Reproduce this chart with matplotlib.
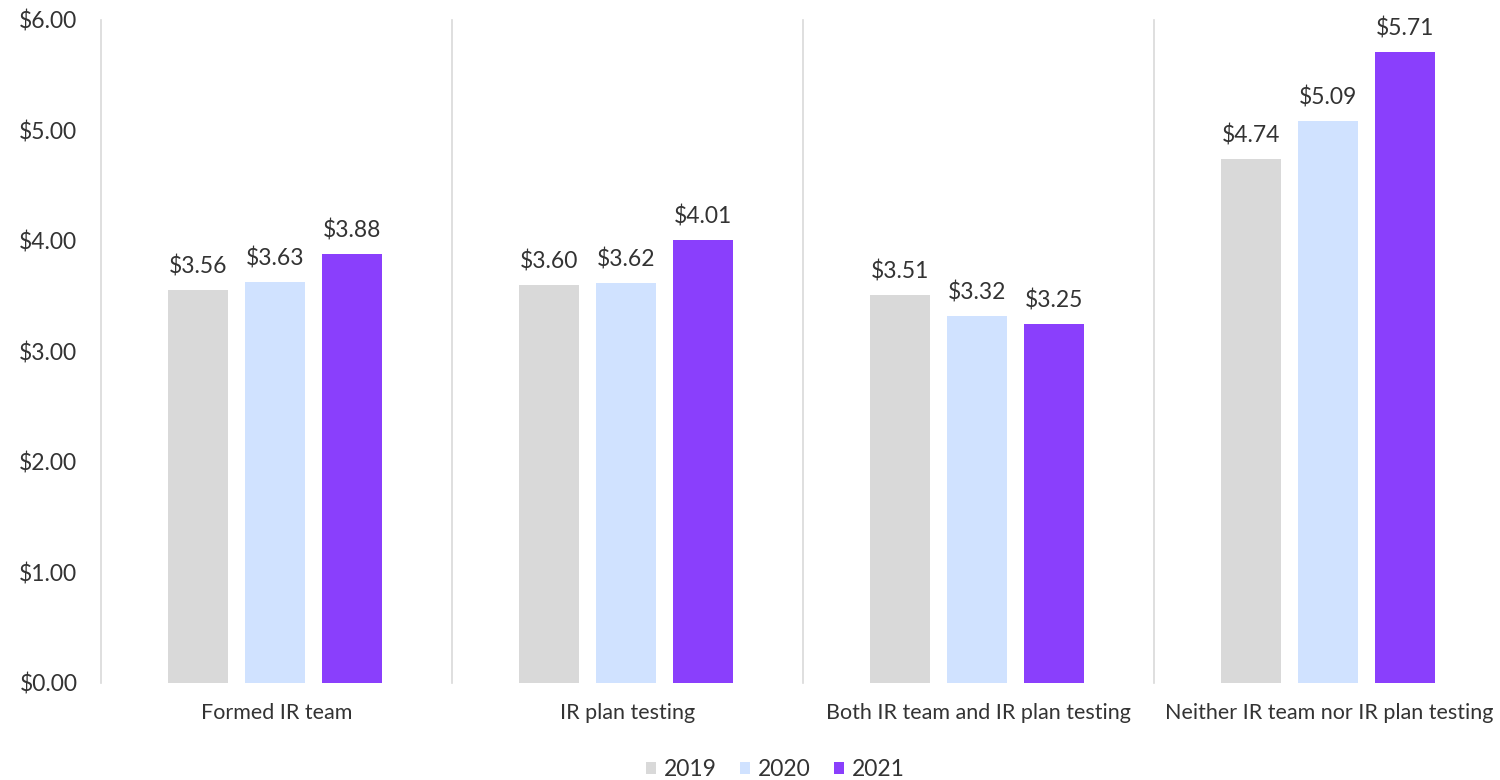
# Cost by IR team / IR plan testing, 2019-2021 grouped bar chart

import matplotlib
matplotlib.use('Agg')
import matplotlib.pyplot as plt
import numpy as np

categories = ['Formed IR team', 'IR plan testing', 'Both IR team and IR plan testing',
              'Neither IR team nor IR plan testing']
years = ['2019', '2020', '2021']
values_2019 = [3.56, 3.60, 3.51, 4.74]
values_2020 = [3.63, 3.62, 3.32, 5.09]
values_2021 = [3.88, 4.01, 3.25, 5.71]
y_ticks = [0, 1, 2, 3, 4, 5, 6]

colors = ['#d9d9d9', '#d0e2ff', '#8a3ffc']
text_color = '#333333'
fs = 16.5

plt.rcParams['font.family'] = ['Lato', 'DejaVu Sans']

fig = plt.figure(figsize=(15, 7.8), dpi=100)
ax = fig.add_axes([0.0673, 0.1244, 0.936, 0.85])

x = np.arange(len(categories))
width = 0.171
step = 0.219
series = [values_2019, values_2020, values_2021]
for i, (vals, year) in enumerate(zip(series, years)):
    pos = x + (i - 1) * step - 0.005
    bars = ax.bar(pos, vals, width, color=colors[i], label=year, zorder=2)
    for b, v in zip(bars, vals):
        ax.annotate(f'${v:.2f}', (b.get_x() + b.get_width() / 2, v),
                    xytext=(0, 9), textcoords='offset points',
                    ha='center', va='bottom', fontsize=fs, color=text_color)

# light separators between categories
for sep in np.arange(-0.5, len(categories) + 0.5, 1):
    ax.plot([sep, sep], [0, 6], color='#d9d9d9', lw=1.2, zorder=1, clip_on=False)

ax.set_xlim(-0.5, len(categories) - 0.5)
ax.set_ylim(0, 6)
ax.set_yticks(y_ticks)
ax.set_yticklabels([f'${t:.2f}' for t in y_ticks])
ax.set_xticks(x)
ax.set_xticklabels(categories)
ax.tick_params(axis='both', length=0, labelsize=fs, labelcolor=text_color)
ax.tick_params(axis='x', labelsize=15.5, pad=14.5)
ax.tick_params(axis='y', pad=17)
for s in ax.spines.values():
    s.set_visible(False)

fig.legend(loc='lower center', bbox_to_anchor=(0.517, -0.027), ncol=3, frameon=False,
           fontsize=fs, handlelength=0.45, handleheight=0.45, handletextpad=0.35,
           columnspacing=1.0, labelcolor=text_color)

plt.savefig('out.png', dpi=100)
plt.close()
